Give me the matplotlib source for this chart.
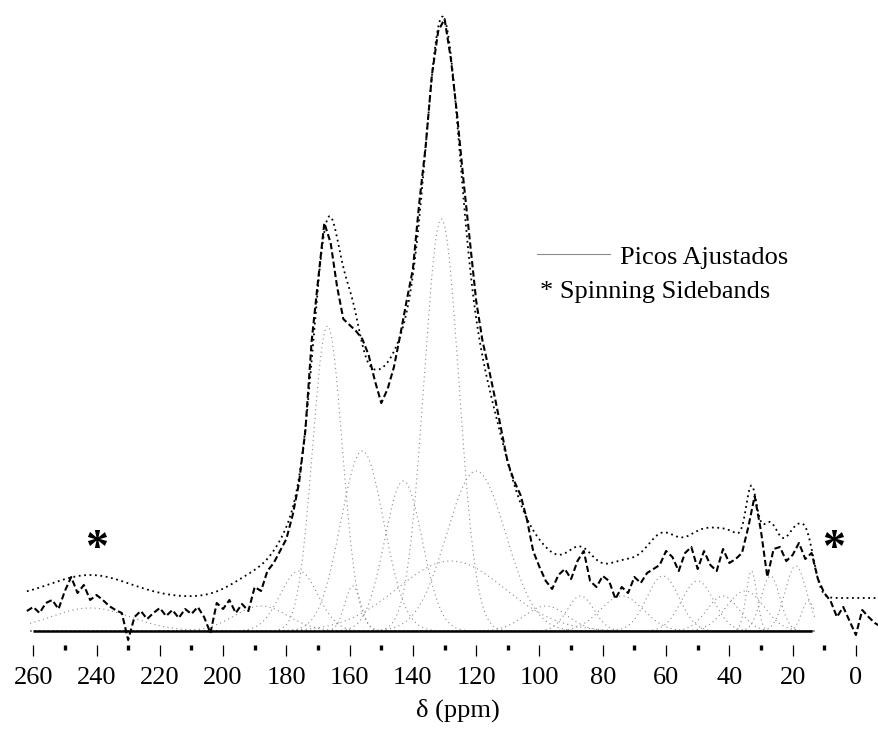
import numpy as np
import matplotlib
matplotlib.use('Agg')
import matplotlib.pyplot as plt
from matplotlib.lines import Line2D

plt.rcParams['font.family'] = ['Liberation Serif', 'DejaVu Serif']

# experimental 13C CP-MAS spectrum, read every 2 ppm from 262 down to -8 ppm
exp_ppm = np.arange(262, -9, -2)
exp_int = [20, 24, 18, 28, 31, 22, 40, 54, 38, 46,
           31, 36, 31, 25, 21, 18, -9, 14, 20, 12,
           18, 23, 15, 21, 13, 22, 17, 24, 14, -2,
           28, 22, 31, 18, 27, 20, 44, 40, 60, 68,
           80, 92, 116, 148, 200, 290, 350, 408, 388, 345,
           312, 306, 300, 292, 276, 250, 228, 242, 264, 296,
           330, 362, 428, 484, 556, 600, 612, 572, 515, 450,
           390, 330, 290, 262, 232, 200, 168, 150, 136, 112,
           80, 64, 50, 42, 56, 62, 52, 70, 80, 50,
           44, 55, 50, 32, 44, 38, 54, 48, 58, 62,
           66, 80, 74, 60, 78, 84, 62, 80, 66, 60,
           82, 68, 72, 78, 104, 135, 100, 54, 82, 84,
           70, 76, 88, 72, 78, 52, 38, 30, 14, 24,
           10, -4, 21, 14, 8, 4]

# fitted peaks (picos ajustados): centre / height / fwhm
peak_center = [242, 188, 176, 167, 159, 156, 143, 131, 128, 120, 98,
               87, 74, 61, 50, 42, 35, 33, 27, 19, 15]
peak_height = [23, 25, 60, 305, 45, 180, 150, 412, 70, 160, 25,
               35, 35, 55, 50, 35, 40, 60, 55, 65, 30]
peak_fwhm = [30, 20, 14, 11, 6, 16, 14, 13, 40, 22, 16,
             10, 16, 12, 12, 12, 14, 4, 7, 8, 5]
fit_offset = 33

sideband_ppm = [240, 7]
major_ticks = np.arange(0, 261, 20)
minor_ticks = np.arange(10, 251, 20)


def gauss(x, c, h, w):
    return h*np.exp(-4*np.log(2)*((x-c)/w)**2)


fig = plt.figure(figsize=(8.79, 7.44), dpi=100)
ax = fig.add_axes([0., 99/744, 1., 645/744])

xc = np.linspace(261, 13, 1600)
for c, h, w in zip(peak_center, peak_height, peak_fwhm):
    ax.plot(xc, gauss(xc, c, h, w), color='#8a8a8a', lw=0.8, ls=(0, (1, 3)))

ax.hlines(0, 260, 14, color='black', lw=1.8)

xf = np.linspace(262, -8, 2000)
fit = fit_offset + sum(gauss(xf, c, h, w) for c, h, w in zip(peak_center, peak_height, peak_fwhm))
ax.plot(xf, fit, color='black', lw=1.3, ls=(0, (1, 2)))

ax.plot(exp_ppm, exp_int, color='black', lw=1.5, ls=(0, (3, 1.5)))

for s in sideband_ppm:
    ax.text(s, 70, '*', fontsize=33, fontweight='bold', ha='center', va='baseline')

ax.set_xlim(270.5, -7.3)
ax.set_ylim(-14, 631)
for sp in ax.spines.values():
    sp.set_visible(False)
ax.set_yticks([])
ax.set_xticks(major_ticks)
ax.set_xticks(minor_ticks, minor=True)
ax.tick_params(axis='x', which='major', length=8, width=0.9, pad=7.5, labelsize=19)
ax.tick_params(axis='x', which='minor', length=3.4, width=2.4)

ax.set_xlabel('δ (ppm)', fontsize=19)
ax.xaxis.set_label_coords(458/879, -0.083)

ax.legend(handles=[Line2D([], [], color='#8a8a8a', lw=0.8)], labels=['Picos Ajustados'],
          loc='center left', bbox_to_anchor=(537/879, (645-257)/645), frameon=False,
          fontsize=19, handlelength=2.77, handletextpad=0.38, borderpad=0, borderaxespad=0)
ax.text(540/879, (645-292)/645, '* Spinning Sidebands', fontsize=19,
        ha='left', va='center', transform=ax.transAxes)

fig.savefig('out.png', dpi=100)
